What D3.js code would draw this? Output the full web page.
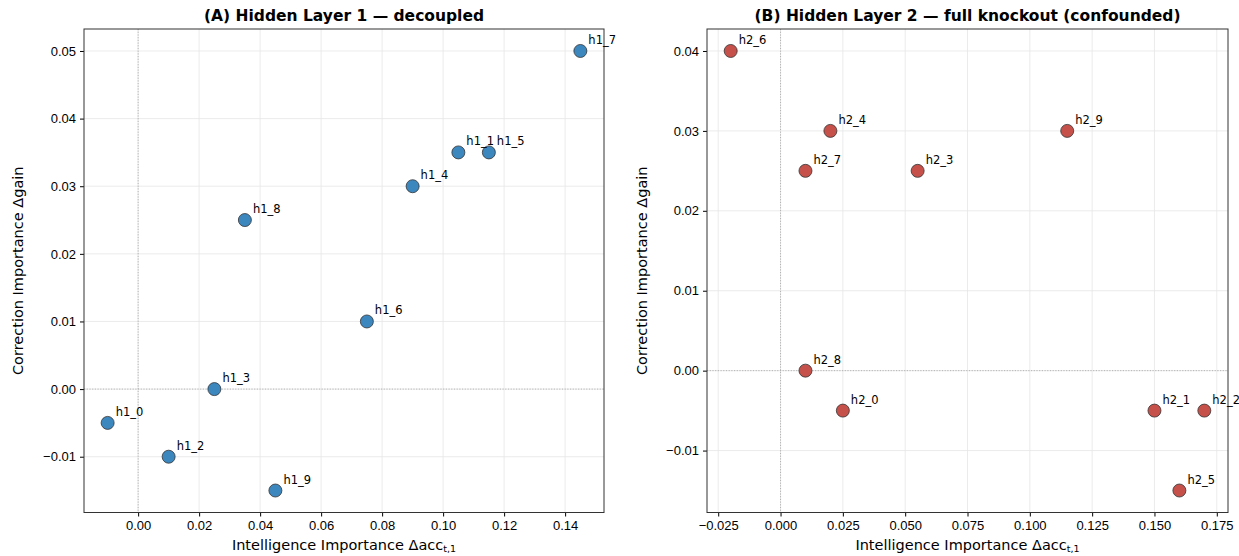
<!DOCTYPE html>
<html>
<head>
<meta charset="utf-8">
<script src="https://cdn.jsdelivr.net/npm/d3@7"></script>
<style>
  body { margin: 0; background: #fff; overflow: hidden; }
  svg { font-family: "DejaVu Sans", sans-serif; display: block; }
  .tick text { font-size: 13px; fill: #000; }
  .tick line { stroke: #000; }
  .domain { stroke: #000; }
</style>
</head>
<body>
<svg id="grafico" width="1239" height="556"></svg>
<script>
// painel A - camada 1
const nomes_a = ["h1_0", "h1_1", "h1_2", "h1_3", "h1_4", "h1_5", "h1_6", "h1_7", "h1_8", "h1_9"];
const x_a = [-0.01, 0.105, 0.01, 0.025, 0.09, 0.115, 0.075, 0.145, 0.035, 0.045];
const y_a = [-0.005, 0.035, -0.01, 0.0, 0.03, 0.035, 0.01, 0.05, 0.025, -0.015];
const ticks_x_a = [0, 0.02, 0.04, 0.06, 0.08, 0.10, 0.12, 0.14];
const ticks_y_a = [-0.01, 0, 0.01, 0.02, 0.03, 0.04, 0.05];

// painel B - camada 2
const nomes_b = ["h2_0", "h2_1", "h2_2", "h2_3", "h2_4", "h2_5", "h2_6", "h2_7", "h2_8", "h2_9"];
const x_b = [0.025, 0.15, 0.17, 0.055, 0.02, 0.16, -0.02, 0.01, 0.01, 0.115];
const y_b = [-0.005, -0.005, -0.005, 0.025, 0.03, -0.015, 0.04, 0.025, 0.0, 0.03];
const ticks_x_b = [-0.025, 0, 0.025, 0.05, 0.075, 0.10, 0.125, 0.15, 0.175];
const ticks_y_b = [-0.01, 0, 0.01, 0.02, 0.03, 0.04];

const svg = d3.select("#grafico");
const topo = 29, base = 512.5;

function desenhar_painel(cfg) {
  const margem_x = (d3.max(cfg.xs) - d3.min(cfg.xs)) * 0.05;
  const margem_y = (d3.max(cfg.ys) - d3.min(cfg.ys)) * 0.05;
  const x = d3.scaleLinear()
    .domain([d3.min(cfg.xs) - margem_x, d3.max(cfg.xs) + margem_x])
    .range([cfg.esq, cfg.dir]);
  const y = d3.scaleLinear()
    .domain([d3.min(cfg.ys) - margem_y, d3.max(cfg.ys) + margem_y])
    .range([base, topo]);

  const g = svg.append("g");

  // grade
  g.selectAll(".gx").data(cfg.tx).enter().append("line")
    .attr("x1", d => x(d)).attr("x2", d => x(d))
    .attr("y1", topo).attr("y2", base)
    .attr("stroke", "#e6e6e6").attr("stroke-width", 0.8);
  g.selectAll(".gy").data(cfg.ty).enter().append("line")
    .attr("x1", cfg.esq).attr("x2", cfg.dir)
    .attr("y1", d => y(d)).attr("y2", d => y(d))
    .attr("stroke", "#e6e6e6").attr("stroke-width", 0.8);

  // linhas do zero
  g.append("line")
    .attr("x1", x(0)).attr("x2", x(0)).attr("y1", topo).attr("y2", base)
    .attr("stroke", "#999").attr("stroke-width", 0.7).attr("stroke-dasharray", "1.2,1.5");
  g.append("line")
    .attr("x1", cfg.esq).attr("x2", cfg.dir).attr("y1", y(0)).attr("y2", y(0))
    .attr("stroke", "#999").attr("stroke-width", 0.7).attr("stroke-dasharray", "1.2,1.5");

  // eixos
  const fmt = cfg.fx;
  g.append("g").attr("transform", `translate(0,${base})`)
    .call(d3.axisBottom(x).tickValues(cfg.tx).tickFormat(d => fmt(d).replace("-", "\u2212")).tickSizeOuter(0).tickSize(4).tickPadding(4))
    .call(s => s.select(".domain").remove());
  g.append("g").attr("transform", `translate(${cfg.esq},0)`)
    .call(d3.axisLeft(y).tickValues(cfg.ty).tickFormat(d => d3.format(".2f")(d).replace("-", "\u2212")).tickSizeOuter(0).tickSize(4).tickPadding(4))
    .call(s => s.select(".domain").remove());

  // moldura
  g.append("rect")
    .attr("x", cfg.esq).attr("y", topo)
    .attr("width", cfg.dir - cfg.esq).attr("height", base - topo)
    .attr("fill", "none").attr("stroke", "#333").attr("stroke-width", 1);

  // pontos
  const dados = cfg.nomes.map((n, i) => ({ n: n, x: cfg.xs[i], y: cfg.ys[i] }));
  g.selectAll(".ponto").data(dados).enter().append("circle")
    .attr("cx", d => x(d.x)).attr("cy", d => y(d.y)).attr("r", 6.5)
    .attr("fill", cfg.cor).attr("stroke", "#333").attr("stroke-width", 0.8);
  g.selectAll(".rotulo").data(dados).enter().append("text")
    .attr("x", d => x(d.x) + 8).attr("y", d => y(d.y) - 7)
    .attr("font-size", 11.5).text(d => d.n);

  // titulos
  const meio = (cfg.esq + cfg.dir) / 2;
  g.append("text").attr("x", meio).attr("y", 21).attr("text-anchor", "middle")
    .attr("font-size", 15.5).attr("font-weight", "bold").text(cfg.titulo);
  const rx = g.append("text").attr("x", meio).attr("y", 550).attr("text-anchor", "middle")
    .attr("font-size", 14.5);
  rx.append("tspan").text("Intelligence Importance \u0394acc");
  rx.append("tspan").attr("font-size", 9.5).attr("dy", 2).text("t,1");
  g.append("text")
    .attr("transform", `translate(${cfg.ry},${(topo + base) / 2}) rotate(-90)`)
    .attr("text-anchor", "middle").attr("font-size", 14.5).text("Correction Importance \u0394gain");
}

desenhar_painel({
  nomes: nomes_a, xs: x_a, ys: y_a, tx: ticks_x_a, ty: ticks_y_a,
  esq: 84, dir: 604, cor: "#3d87bf", ry: 23, fx: d3.format(".2f"),
  titulo: "(A) Hidden Layer 1 \u2014 decoupled"
});
desenhar_painel({
  nomes: nomes_b, xs: x_b, ys: y_b, tx: ticks_x_b, ty: ticks_y_b,
  esq: 707, dir: 1228, cor: "#c5514a", ry: 647, fx: d3.format(".3f"),
  titulo: "(B) Hidden Layer 2 \u2014 full knockout (confounded)"
});
</script>
</body>
</html>
